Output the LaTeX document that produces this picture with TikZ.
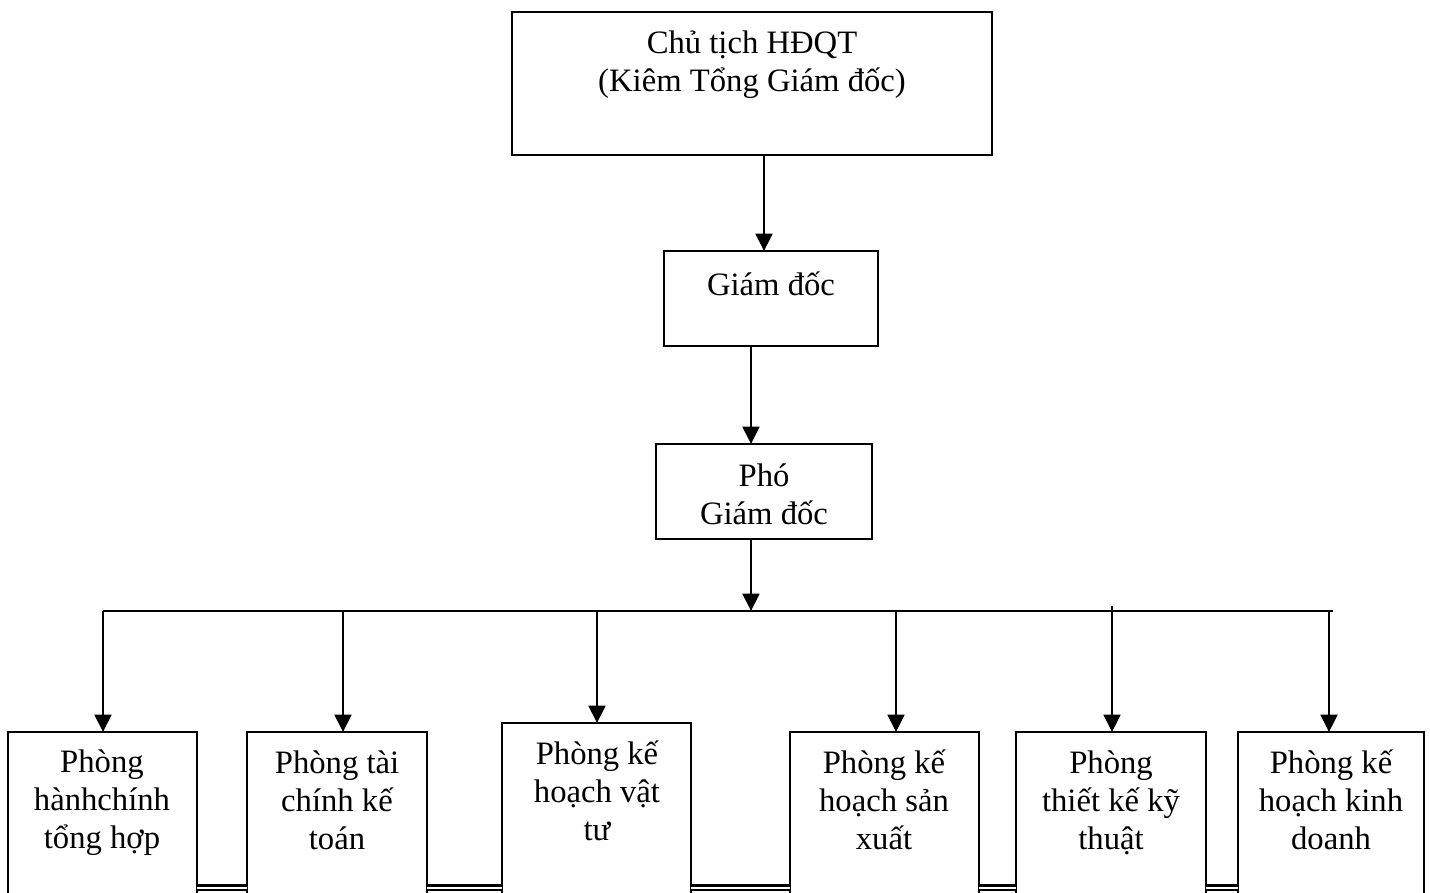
\documentclass[tikz,border=0pt]{standalone}
\usepackage{fontspec}
\setmainfont{Liberation Serif}
\usetikzlibrary{arrows.meta}
\begin{document}
\begin{tikzpicture}[x=0.75pt,y=-0.75pt,
  box/.style={draw, line width=1.8pt, inner sep=0pt, outer sep=0pt},
  lbl/.style={align=center, inner sep=0pt, font=\fontsize{24.5}{28.5}\selectfont},
  arr/.style={line width=2.1pt, -{Triangle[width=12.5pt,length=13pt]}},
  bus/.style={line width=1.8pt},
  dbl/.style={double, line width=1.6pt, double distance=1.5pt}]
\useasboundingbox (0,0) rectangle (1430,892);

% upper chain of command
\node[box, minimum width=480*0.75pt, minimum height=143*0.75pt] (ct) at (752,83.5) {};
\node[lbl] (ctt) at (752,65) {Chủ tịch HĐQT\\(Kiêm Tổng Giám đốc)};
\node[box, minimum width=214*0.75pt, minimum height=95*0.75pt] (gd) at (771,298.5) {};
\node[lbl] (gdt) at (771,284) {Giám đốc};
\node[box, minimum width=216*0.75pt, minimum height=95*0.75pt] (pgd) at (764,491.5) {};
\node[lbl] (pgdt) at (764,494) {Phó\\Giám đốc};

\coordinate (x1) at (764,0);
\coordinate (x2) at (751,0);
\draw[arr] (ct.south -| x1) -- (gd.north -| x1);
\draw[arr] (gd.south -| x2) -- (pgd.north -| x2);

% bus line
\coordinate (busL) at (103,611);
\coordinate (busR) at (1333,611);
\draw[bus] (busL) -- (busR);
\draw[arr] (pgd.south -| x2) -- (busL -| x2);

% departments
\node[box, minimum width=189*0.75pt, minimum height=170*0.75pt] (b1) at (102.5,817) {};
\node[box, minimum width=180*0.75pt, minimum height=170*0.75pt] (b2) at (337,817) {};
\node[box, minimum width=189*0.75pt, minimum height=179*0.75pt] (b3) at (596.5,812.5) {};
\node[box, minimum width=189*0.75pt, minimum height=170*0.75pt] (b4) at (884.5,817) {};
\node[box, minimum width=190*0.75pt, minimum height=170*0.75pt] (b5) at (1111,817) {};
\node[box, minimum width=186*0.75pt, minimum height=170*0.75pt] (b6) at (1331,817) {};

\node[lbl] (t1) at (102,803) {Phòng\\hànhchính\\tổng hợp};
\node[lbl] (t2) at (337,800) {Phòng tài\\chính kế\\toán};
\node[lbl] (t3) at (597,791) {Phòng kế\\hoạch vật\\tư};
\node[lbl] (t4) at (884,800) {Phòng kế\\hoạch sản\\xuất};
\node[lbl] (t5) at (1111,803) {Phòng\\thiết kế kỹ\\thuật};
\node[lbl] (t6) at (1331,800) {Phòng kế\\hoạch kinh\\doanh};

% drops from the bus
\coordinate (d1) at (103,0);
\coordinate (d2) at (343,0);
\coordinate (d3) at (597,0);
\coordinate (d4) at (896,0);
\coordinate (d5) at (1112,606);
\coordinate (d6) at (1329,0);
\draw[arr] (busL -| d1) -- (b1.north -| d1);
\draw[arr] (busL -| d2) -- (b2.north -| d2);
\draw[arr] (busL -| d3) -- (b3.north -| d3);
\draw[arr] (busL -| d4) -- (b4.north -| d4);
\draw[arr] (d5) -- (b5.north -| d5);
\draw[arr] (busL -| d6) -- (b6.north -| d6);

% double links along the bottom
\coordinate (dl) at (0,887.5);
\draw[dbl] (b1.east |- dl) -- (b2.west |- dl);
\draw[dbl] (b2.east |- dl) -- (b3.west |- dl);
\draw[dbl] (b3.east |- dl) -- (b4.west |- dl);
\draw[dbl] (b4.east |- dl) -- (b5.west |- dl);
\draw[dbl] (b5.east |- dl) -- (b6.west |- dl);
\end{tikzpicture}
\end{document}
